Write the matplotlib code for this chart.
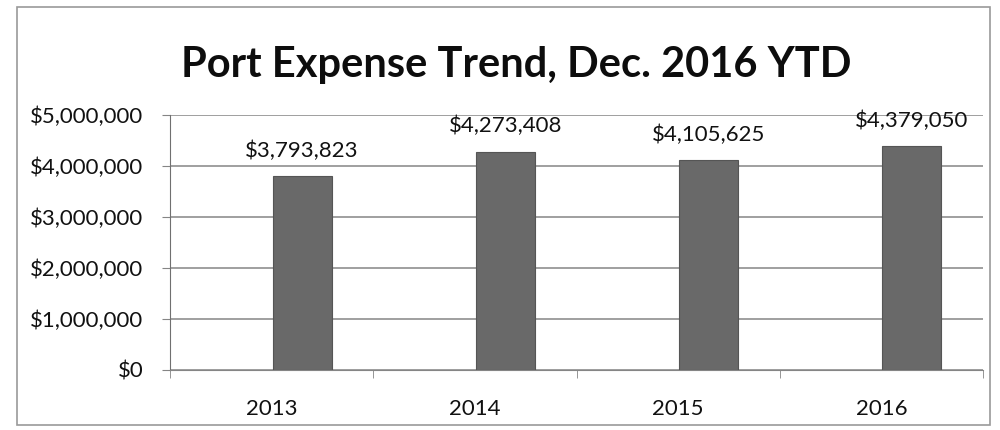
import matplotlib
matplotlib.use('Agg')
import matplotlib.pyplot as plt
import matplotlib.patches as mpatches
from matplotlib.ticker import FuncFormatter, MultipleLocator, FixedLocator
import numpy as np

# --- Data ---
years   = ['2013', '2014', '2015', '2016']
expense = [3793823, 4273408, 4105625, 4379050]

TITLE     = 'Port Expense Trend, Dec. 2016 YTD'
BAR_COLOR = '#696969'
GRID      = '#858585'
TEXT      = '#111111'

plt.rcParams['font.family'] = ['Lato', 'DejaVu Sans']

fig = plt.figure(figsize=(10, 4.3), dpi=100)
fig.patch.set_facecolor('white')

# outer chart border
fig.patches.append(mpatches.Rectangle((0.017, 0.012), 0.973, 0.972, transform=fig.transFigure,
                                      fill=False, edgecolor='#9a9a9a', linewidth=1.2))

ax = fig.add_axes([0.17, 0.14, 0.813, 0.593])

x = np.arange(len(years))
shift = 0.15   # bars sit a little right of the category centre in the original
bars = ax.bar(x + shift, expense, width=0.29, color=BAR_COLOR, edgecolor='#555555', linewidth=0.8, zorder=3)

for b, v in zip(bars, expense):
    ax.annotate(f'${v:,.0f}', (b.get_x() + b.get_width() / 2, v),
                xytext=(0, 11), textcoords='offset points',
                ha='center', va='bottom', fontsize=16, color=TEXT)

ax.set_xlim(-0.5, len(years) - 0.5)
ax.set_ylim(0, 5000000)
ax.yaxis.set_major_locator(MultipleLocator(1000000))
ax.yaxis.set_major_formatter(FuncFormatter(lambda v, p: f'${v:,.0f}'))
ax.grid(axis='y', color=GRID, linewidth=1.1, zorder=0)

ax.set_xticks(x)
ax.set_xticklabels(years)
ax.xaxis.set_minor_locator(FixedLocator(np.arange(-0.5, len(years), 1.0)))
ax.tick_params(axis='x', which='major', length=0, pad=21, labelsize=16, labelcolor=TEXT)
ax.tick_params(axis='x', which='minor', length=6, color=GRID)
ax.tick_params(axis='y', length=6, color=GRID, pad=13, labelsize=16, labelcolor=TEXT)

for s in ['top', 'right']:
    ax.spines[s].set_visible(False)
ax.spines['left'].set_color('#707070')
ax.spines['bottom'].set_color(GRID)

fig.text(0.516, 0.85, TITLE, ha='center', va='center', fontsize=30, fontweight='bold', color='#0d0d0d')

plt.savefig('out.png', dpi=100, facecolor='white')
plt.close()
